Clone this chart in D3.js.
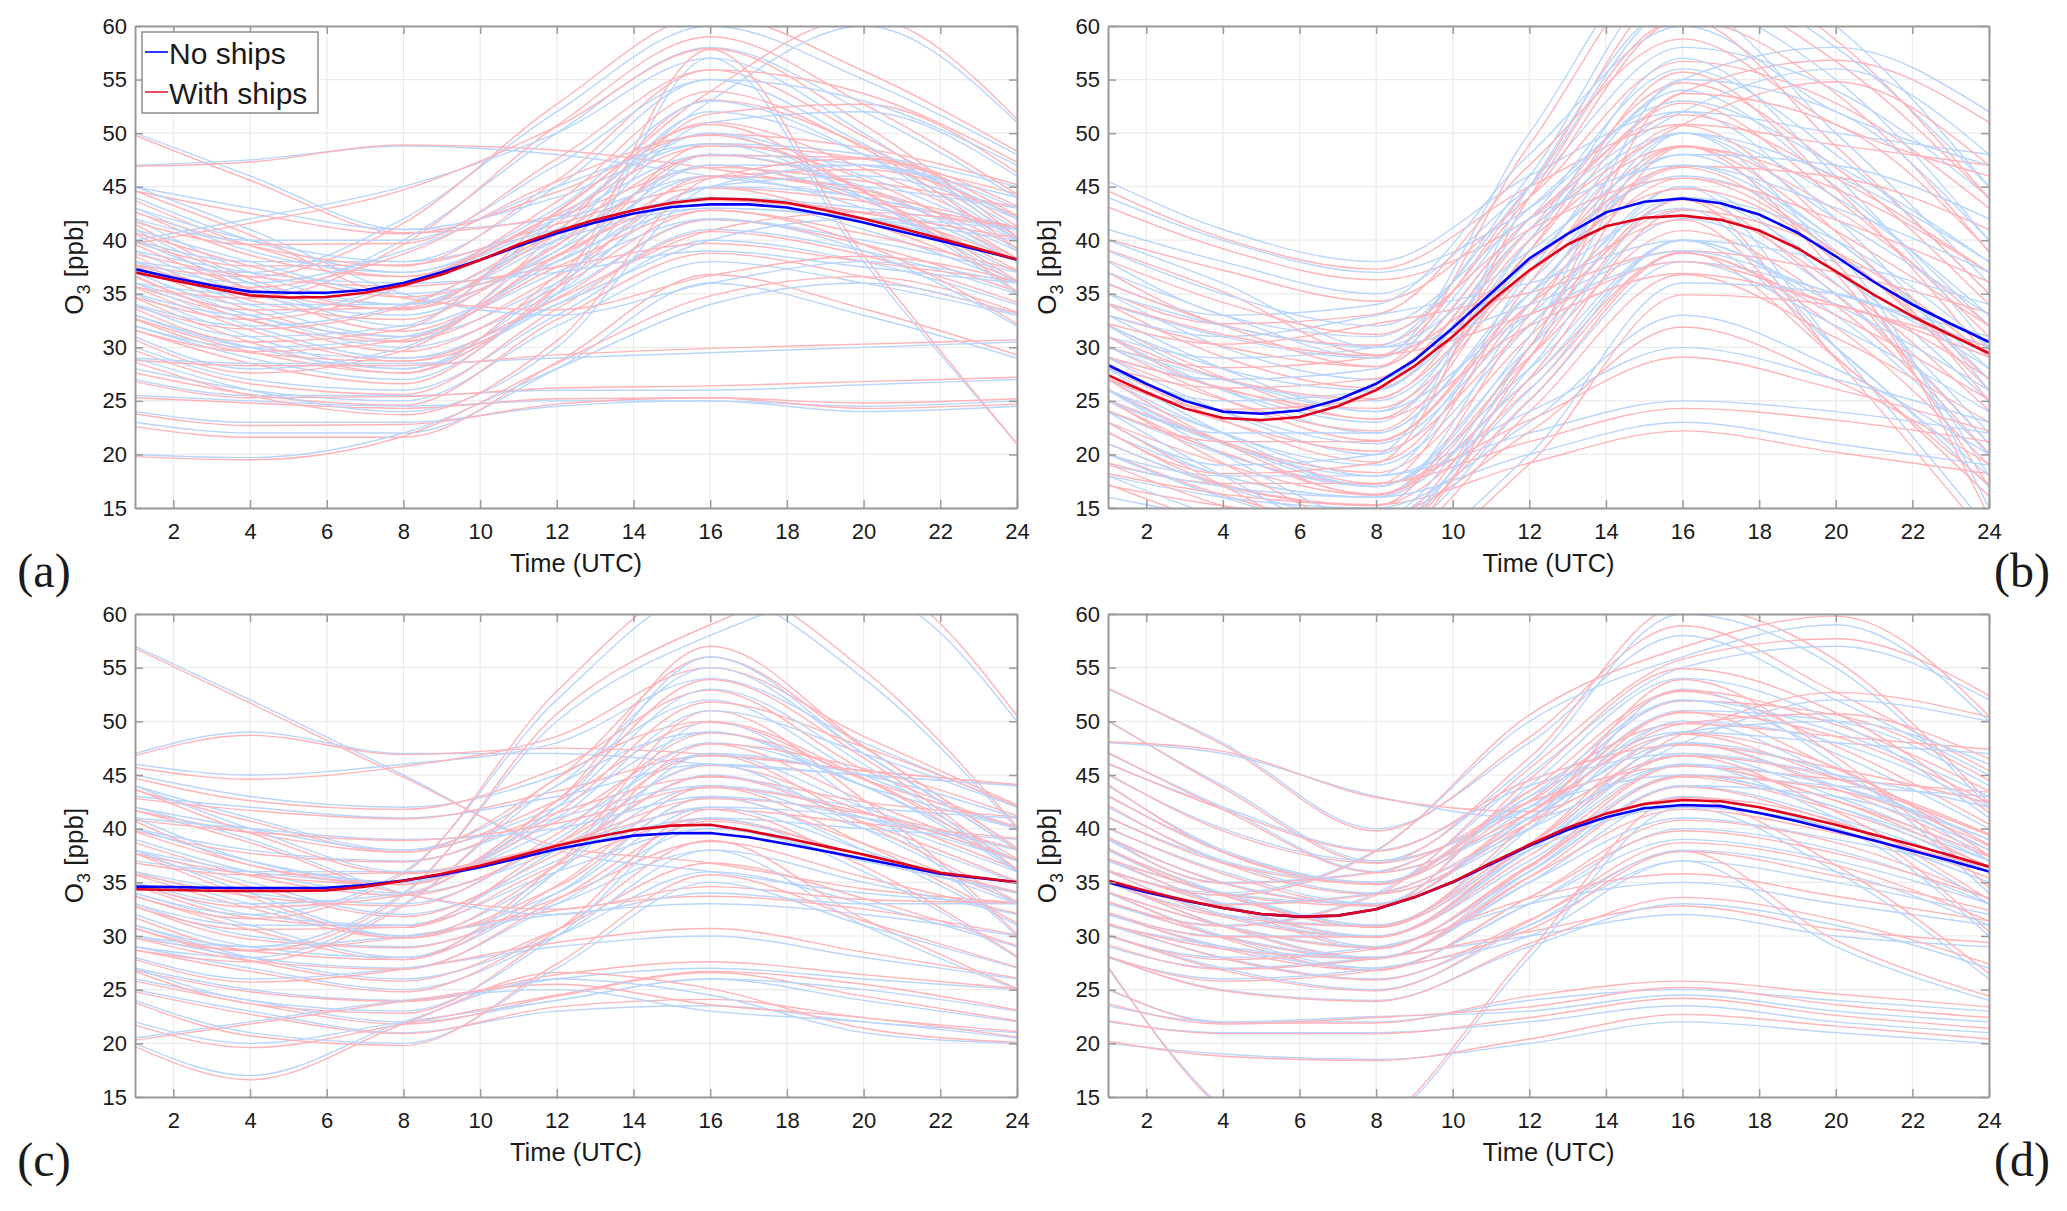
<!DOCTYPE html>
<html>
<head>
<meta charset="utf-8">
<script src="https://cdn.jsdelivr.net/npm/d3@7"></script>
<style>
  body { margin: 0; background: #fff; }
  text { font-family: "Liberation Sans", Arial, sans-serif; fill: #1a1a1a; }
</style>
</head>
<body>
<script>
// -------------------- DATA -------------------- //
const hours = [1,2,3,4,5,6,7,8,9,10,11,12,13,14,15,16,17,18,19,20,21,22,23,24];
const knotHours = [1, 4, 8, 12, 16, 20, 24];
const xTicks = [2,4,6,8,10,12,14,16,18,20,22,24];
const yTicks = [15,20,25,30,35,40,45,50,55,60];
const seriesNames = ["No ships", "With ships"];

// mean diurnal cycles
const meanNoShipsA = [37.3,36.5,35.8,35.2,35.1,35.1,35.35,36.0,37.0,38.15,39.45,40.65,41.65,42.5,43.1,43.35,43.35,43.05,42.4,41.65,40.8,39.95,39.1,38.2];
const meanWithShipsA = [37.0,36.25,35.55,34.85,34.65,34.7,35.1,35.8,36.8,38.15,39.6,40.85,41.9,42.8,43.5,43.9,43.8,43.5,42.8,42.0,41.1,40.15,39.2,38.2];
const meanNoShipsB = [28.35,26.6,25.0,24.0,23.8,24.1,25.1,26.6,28.8,31.8,35.05,38.3,40.6,42.6,43.6,43.9,43.45,42.4,40.7,38.5,36.1,34.0,32.2,30.5];
const meanWithShipsB = [27.4,25.8,24.3,23.4,23.2,23.5,24.5,26.0,28.25,31.0,34.3,37.2,39.6,41.3,42.1,42.3,41.9,40.9,39.25,37.1,34.9,32.9,31.15,29.45];
const meanNoShipsC = [34.6,34.55,34.5,34.47,34.47,34.5,34.75,35.16,35.7,36.4,37.25,38.1,38.75,39.35,39.57,39.6,39.2,38.57,37.9,37.2,36.5,35.8,35.4,35.0];
const meanWithShipsC = [34.35,34.28,34.22,34.2,34.2,34.25,34.6,35.15,35.8,36.55,37.45,38.4,39.2,39.9,40.28,40.37,39.8,39.1,38.35,37.6,36.75,35.9,35.45,35.0];
const meanNoShipsD = [35.0,34.07,33.3,32.6,32.05,31.8,31.9,32.5,33.6,35.0,36.7,38.4,39.9,41.06,41.9,42.2,42.1,41.46,40.7,39.8,38.9,37.95,37.0,36.0];
const meanWithShipsD = [35.16,34.2,33.35,32.6,32.05,31.8,31.9,32.5,33.6,35.05,36.8,38.5,40.1,41.4,42.3,42.67,42.55,42.0,41.2,40.37,39.44,38.5,37.5,36.46];

// single stations, values at knotHours
const stationsNoShipsA = [
  [50,46,41,42,46,45,43],[47,47.5,48.8,48,46,44,41],[45,43,41,44,49,48,45],[44,40,37,42,48,47,44],
  [42,37,34,41,50,46,40],[41,36,32,38,47,44,38],[40,38,38,41,44,43,41],[39,35,33,39,46,43,37],
  [38,34,31,36,44,41,36],[37,33,31,40,52,48,40],[36,33,30,35,42,40,37],[35,31,28,36,48,45,38],
  [34,32,34,40,43,42,40],[33,30,28,34,41,39,35],[32,29,27,35,45,44,39],[31,28,30,38,43,42,38],
  [30,27,26,33,40,38,34],[28,26,25,32,38,36,33],[27,25.5,25.5,26,26,26.5,27],[25.5,25,24.5,25,25,24.5,25],
  [24,23,23,24.5,25,24,24.5],[23,22,22,28,36,33,29],[20,19.7,22,28,34,36,33],[38,37,42,52,60,55,48],
  [36,35,40,50,58,52,44],[40,42,45,50,57,50,40],[43,40,38,45,55,49,41],[35,33,36,42,53,60,51],
  [33,30,29,35,57,38,21],[39,37,36,37,39,37.5,36],[29,28.5,28.5,29,29.5,30,30.5],[45,41,35,33,36,38,36],
  [41,38,35,38,45,46,42],[37,34,34,40,47,47,43],[40,36,34,39,51,52,46],[36,32,29,34,40,42,41],
  [43,39,37,43,53,48,39],[34,31,32,42,50,44,36],[38,36,39,45,49,44,35],[32,30,31,37,42,39,32],
  [42,40,40,47,55,53,47],[29,26,24,30,45,47,42]
];
const stationsWithShipsA = [
  [49.8,45.6,40.7,42.3,46.8,45.5,43.1],[46.9,47.3,48.9,48.4,46.7,44.4,41.2],[44.6,42.5,40.6,44.5,49.9,48.6,45.2],[43.7,39.5,36.6,42.4,48.8,47.6,44.3],
  [41.5,36.4,33.5,41.6,51.0,46.7,40.2],[40.6,35.4,31.5,38.5,48.0,44.8,38.3],[39.8,37.6,37.7,41.5,44.9,43.6,41.2],[38.5,34.4,32.6,39.6,47.0,43.7,37.2],
  [37.6,33.5,30.6,36.6,44.9,41.7,36.2],[36.7,32.5,30.5,40.7,53.1,48.8,40.3],[35.7,32.6,29.6,35.6,42.8,40.6,37.2],[34.6,30.5,27.6,36.7,49.0,45.7,38.3],
  [33.8,31.7,33.8,40.5,43.7,42.5,40.2],[32.7,29.6,27.6,34.6,41.9,39.6,35.2],[31.6,28.5,26.6,35.6,46.0,44.7,39.3],[30.7,27.6,29.7,38.6,43.8,42.6,38.2],
  [29.7,26.6,25.6,33.6,40.8,38.6,34.2],[27.6,25.6,24.6,32.6,38.8,36.6,33.2],[26.8,25.3,25.4,26.2,26.4,26.8,27.2],[25.3,24.8,24.3,25.2,25.3,24.8,25.2],
  [23.8,22.7,22.8,24.7,25.3,24.3,24.7],[22.6,21.6,21.6,28.6,36.8,33.6,29.3],[19.8,19.5,21.7,28.5,34.8,36.6,33.3],[37.7,36.6,41.6,52.7,61.0,55.8,48.3],
  [35.6,34.6,39.6,50.7,59.0,52.7,44.3],[39.7,41.6,44.7,50.6,57.9,50.8,40.3],[42.6,39.5,37.6,45.6,55.9,49.7,41.3],[34.7,32.6,35.7,42.6,53.9,60.8,51.3],
  [32.6,29.5,28.7,35.6,57.8,38.6,21.0],[38.7,36.6,35.7,37.5,39.7,38.0,36.2],[28.8,28.3,28.3,29.3,29.9,30.3,30.7],[44.6,40.5,34.6,33.5,36.7,38.5,36.2],
  [40.7,37.6,34.7,38.5,45.8,46.6,42.2],[36.6,33.5,33.7,40.6,47.9,47.7,43.2],[39.6,35.5,33.6,39.5,51.8,52.7,46.3],[35.6,31.6,28.7,34.5,40.9,42.6,41.2],
  [42.7,38.6,36.6,43.6,53.9,48.6,39.2],[33.6,30.5,31.7,42.7,50.8,44.6,36.2],[37.7,35.6,38.7,45.5,49.8,44.5,35.2],[31.6,29.6,30.7,37.5,42.8,39.6,32.2],
  [41.7,39.6,39.7,47.6,55.9,53.7,47.3],[28.6,25.5,23.7,30.6,45.8,47.6,42.3]
];
const stationsNoShipsB = [
  [45.5,41,38,46,52,50,48],[44,40,37,43,55,58,52],[41,38,35,45,58,54,44],[38,33,31,45,62,55,40],
  [35,30,27,42,56,48,35],[33,28,24,40,54,45,32],[32,27,25,38,50,44,33],[31,26,22,36,48,40,28],
  [30,26,23,40,57,46,30],[29,24,20,35,47,40,27],[28,24,21,33,44,37,25],[27,22,19,32,45,36,22],
  [26,21,18,37,52,42,26],[25,21,17,30,42,35,21],[24,20,17,28,40,33,20],[23,18,16,27,40,30,17],
  [22,18,16,34,50,38,18],[21,17,14,30,45,30,13],[20,18,18,22,25,24,22],[19,17,16,20,23,21,19],
  [18,16,15,23,33,28,20],[16,14,12,25,38,32,24],[31,29,30,46,65,58,45],[34,31,29,50,68,60,45],
  [36,33,34,48,60,52,47],[29,27,28,42,52,56,48],[26,22,18,24,30,27,23],[33,31,33,36,40,38,34],
  [30,27,24,33,38,35,30],[28,25,26,38,46,39,15],[40,36,30,34,39,35,31],[23,19,20,45,62,50,36],
  [37,33,29,43,53,47,38],[26,20,14,26,40,34,26],[24,18,12,30,50,46,38],[32,28,26,41,50,42,33],
  [20,16,13,28,44,40,30],[35,32,30,39,48,47,42],[28,22,17,31,55,52,40],[18,14,10,20,36,35,28],
  [39,35,32,42,47,43,37],[25,22,22,35,43,30,18]
];
const stationsWithShipsB = [
  [44.6,40.2,37.3,45.0,50.8,48.9,47.0],[43.1,39.2,36.3,42.0,53.8,56.8,51.0],[40.1,37.2,34.3,44.0,56.7,52.8,43.0],[37.0,32.1,30.2,44.0,60.6,53.7,38.9],
  [34.0,29.1,26.2,41.0,54.7,46.8,34.0],[32.1,27.2,23.3,39.0,52.8,43.9,31.0],[31.0,26.1,24.3,37.0,48.8,42.8,32.0],[30.1,25.2,21.3,35.0,46.8,38.9,27.0],
  [29.0,25.1,22.2,39.0,55.7,44.8,29.0],[28.1,23.2,19.3,34.0,45.8,38.9,26.0],[27.0,23.1,20.3,32.1,42.9,35.9,24.1],[26.1,21.2,18.3,31.0,43.8,34.9,21.0],
  [25.0,20.1,17.2,36.0,50.7,40.8,25.0],[24.1,20.2,16.3,29.1,40.9,33.9,20.1],[23.0,19.1,16.2,27.0,38.8,31.9,19.0],[22.1,17.2,15.3,26.1,38.9,29.0,16.1],
  [21.0,17.1,15.2,33.0,48.8,36.9,17.0],[20.1,16.2,13.3,29.0,43.8,28.9,12.1],[19.2,17.3,17.3,21.2,24.3,23.2,21.2],[18.2,16.3,15.3,19.2,22.2,20.2,18.2],
  [17.1,15.2,14.3,22.1,31.9,26.9,19.1],[15.1,13.2,11.3,24.0,36.8,30.9,23.0],[30.0,28.1,29.1,45.0,63.6,56.7,43.9],[33.0,30.1,28.2,48.9,66.6,58.7,43.9],
  [35.1,32.2,33.1,47.0,58.8,50.8,46.0],[28.1,26.2,27.1,41.0,50.8,54.8,47.0],[25.1,21.2,17.3,23.2,29.1,26.1,22.2],[32.2,30.3,32.2,35.1,39.0,37.0,33.2],
  [29.1,26.2,23.3,32.0,36.9,34.0,29.1],[27.1,24.2,25.2,37.0,44.8,37.9,14.2],[39.1,35.2,29.3,33.1,38.0,34.0,30.1],[22.1,18.2,19.2,44.0,60.7,48.8,35.0],
  [35.9,32.0,28.2,42.0,51.7,45.8,37.0],[25.1,19.2,13.3,25.1,38.8,33.0,25.1],[23.0,17.1,11.2,29.0,48.7,44.8,37.0],[31.0,27.1,25.2,40.0,48.8,40.9,32.0],
  [19.1,15.2,12.3,27.1,42.8,38.9,29.1],[34.1,31.2,29.2,38.0,46.9,45.9,41.0],[27.0,21.1,16.2,30.0,53.7,50.8,39.0],[17.2,13.3,9.4,19.1,34.9,33.9,27.1],
  [38.1,34.2,31.2,41.0,45.8,41.9,36.1],[24.1,21.2,21.2,34.0,41.9,29.1,17.2]
];
const stationsNoShipsC = [
  [57,52,45,38,36,34,33],[47,49,47,47,46,45,44],[46,45,46,48,54,48,42],[45,43,42,45,52,45,40],
  [44,41,38,44,55,47,38],[43,42,41,43,46,45,44],[42,40,38,42,49,44,40],[41,37,35,40,47,42,37],
  [40,38,37,41,44,42,41],[39,36,34,38,45,41,36],[38,35,32,37,44,40,35],[37,36,36,38,41,40,39],
  [36,33,30,34,42,38,33],[35,32,31,36,40,37,34],[34,31,28,34,43,38,31],[33,30,29,33,38,35,32],
  [32,29,28,36,50,42,30],[31,28,26,30,36,33,29],[30,29,30,32,33,32,30],[29,27,25,30,38,31,25],
  [28,26,27,29,30,28,26],[27,25,24,26,27,26,25],[26,24,22,24,26,24,22],[25,23,21,23,23.5,22,21],
  [22,20,22,24,26,25,23],[20,17,22,26,24.5,21,20],[20.5,22,24,25,23,22,20.5],[34,32,36,52,62,54,40],
  [31,29,34,50,58,62,50],[38,36,35,42,56,47,38],[42,39,34,32,34,33,33],[29,28,33,44,49,44,37],
  [40,37,35,41,51,47,42],[36,34,33,39,48,44,36],[33,31,31,38,46,40,33],[44,40,36,38,42,41,38],
  [30,28,27,33,40,37,34],[38,34,30,36,47,45,41],[35,33,34,42,53,46,36],[27,24,23,30,41,36,28],
  [41,40,39,40,43,41,37],[24,21,20,27,35,31,27]
];
const stationsWithShipsC = [
  [56.8,51.7,44.8,38.4,36.8,34.4,33.1],[46.8,48.7,46.9,47.5,46.9,45.4,44.1],[45.7,44.6,45.8,48.6,55.0,48.6,42.2],[44.7,42.6,41.8,45.6,52.9,45.5,40.1],
  [43.6,40.7,37.8,44.7,56.0,47.6,38.2],[42.8,41.7,40.9,43.5,46.8,45.4,44.1],[41.7,39.6,37.8,42.6,49.9,44.6,40.2],[40.7,36.6,34.8,40.7,47.9,42.6,37.1],
  [39.8,37.7,36.9,41.5,44.8,42.5,41.1],[38.7,35.6,33.8,38.6,45.9,41.6,36.2],[37.7,34.6,31.8,37.6,44.9,40.6,35.1],[36.8,35.7,35.9,38.5,41.8,40.5,39.1],
  [35.7,32.6,29.8,34.6,42.9,38.6,33.2],[34.7,31.7,30.8,36.6,40.9,37.5,34.1],[33.7,30.6,27.8,34.7,43.9,38.6,31.2],[32.8,29.7,28.9,33.5,38.8,35.5,32.1],
  [31.7,28.6,27.8,36.7,51.0,42.7,30.2],[30.7,27.7,25.8,30.6,36.8,33.5,29.1],[29.8,28.7,29.9,32.4,33.7,32.5,30.1],[28.7,26.7,24.8,30.6,38.9,31.6,25.1],
  [27.8,25.7,26.9,29.4,30.7,28.5,26.1],[26.8,24.8,23.9,26.4,27.6,26.4,25.1],[25.8,23.7,21.8,24.4,26.6,24.4,22.1],[24.8,22.7,20.9,23.4,24.1,22.4,21.1],
  [21.7,19.6,21.8,24.5,26.7,25.5,23.1],[19.7,16.6,21.8,26.6,25.1,21.4,20.1],[20.3,21.8,23.9,25.5,23.6,22.4,20.6],[33.7,31.6,35.8,52.8,63.0,54.8,40.2],
  [30.7,28.6,33.8,50.7,59.0,63.0,50.5],[37.7,35.7,34.8,42.6,57.0,47.7,38.2],[41.7,38.7,33.9,32.5,34.6,33.4,33.1],[28.7,27.6,32.8,44.7,50.0,44.7,37.2],
  [39.7,36.6,34.8,41.5,51.8,47.6,42.1],[35.8,33.7,32.8,39.5,48.9,44.6,36.2],[32.7,30.6,30.8,38.6,46.9,40.5,33.2],[43.7,39.6,35.8,38.5,42.8,41.4,38.1],
  [29.8,27.7,26.9,33.4,40.7,37.5,34.1],[37.7,33.6,29.8,36.6,47.9,45.6,41.2],[34.8,32.7,33.8,42.6,53.9,46.6,36.2],[26.7,23.7,22.8,30.5,41.8,36.5,28.1],
  [40.8,39.7,38.9,40.5,43.8,41.5,37.1],[23.8,20.7,19.8,27.4,35.7,31.4,27.1]
];
const stationsNoShipsD = [
  [53,48,40,48,58,52,45],[50,44,37,46,60,55,42],[48,47,43,41,48,52,50],[45,40,37,42,51,50,44],
  [44,38,35,42,52,47,40],[42,37,34,40,50,45,38],[40,36,33,41,48,44,39],[39,35,36,42,45,44,43],
  [38,34,31,38,47,43,37],[37,33,30,37,45,42,37],[36,33,29,36,44,41,36],[35,31,28,35,43,40,35],
  [34,30,27,33,40,38,33],[33,30,28,36,45,42,36],[32,29,27,33,39,37,33],[31,28,26,31,37,35,32],
  [30,28,29,33,35,33,31],[29,27,28,30,32,30,29],[28,26,27,30,37,29,24],[25,22,22,24,25,24,23],
  [23.5,22,22.5,23,24.5,23,22],[22,21,21,22,23.5,22,21],[20,19,18.5,20,22,21,20],[27,14,8,8,8,8,8],
  [8,8,12,28,42,40,30],[36,34,38,50,56,59,50],[33,31,34,45,55,57,52],[41,37,35,43,49,48,47],
  [37,34,31,40,53,46,34],[35,32,31,38,42,36,26],[46,42,38,44,47,45,42],[31,29,28,35,41,39,36],
  [43,38,35,43,52,49,43],[39,35,33,41,50,48,42],[36,32,30,38,46,44,39],[34,31,29,36,44,43,38],
  [32,30,30,38,48,45,37],[30,27,25,31,38,36,31],[47,42,36,41,49,50,46],[38,34,33,44,54,50,41],
  [28,25,24,29,33,31,27],[35,33,34,40,46,41,33]
];
const stationsWithShipsD = [
  [53.1,47.8,39.8,48.5,58.9,52.7,45.4],[50.1,43.8,36.8,46.6,60.8,55.7,42.4],[48.1,47.2,42.9,41.6,48.8,52.7,50.4],[45.1,39.8,36.8,42.5,51.9,50.6,44.5],
  [44.1,37.8,34.8,42.6,52.8,47.7,40.4],[42.2,36.8,33.9,40.5,50.9,45.6,38.5],[40.1,35.8,32.8,41.6,48.8,44.7,39.4],[39.2,34.9,35.9,42.5,45.8,44.6,43.4],
  [38.1,33.8,30.8,38.6,47.9,43.7,37.5],[37.2,32.9,29.9,37.5,45.9,42.6,37.4],[36.1,32.8,28.8,36.6,44.8,41.7,36.5],[35.2,30.9,27.9,35.5,43.9,40.6,35.4],
  [34.1,29.8,26.8,33.6,40.8,38.7,33.5],[33.2,29.9,27.9,36.5,45.9,42.6,36.4],[32.1,28.8,26.8,33.6,39.8,37.7,33.5],[31.2,27.9,25.9,31.5,37.9,35.6,32.4],
  [30.1,27.8,28.8,33.5,35.8,33.7,31.4],[29.2,26.9,27.9,30.4,32.8,30.6,29.4],[28.1,25.8,26.8,30.6,37.9,29.6,24.4],[25.1,21.9,21.9,24.4,25.8,24.6,23.4],
  [23.7,21.8,22.4,23.4,25.2,23.6,22.4],[22.1,20.9,20.9,22.4,24.2,22.6,21.4],[20.2,18.8,18.4,20.4,22.7,21.6,20.4],[27.2,13.8,8,8,8,8,8],
  [8,8,12.2,28.6,42.9,40.7,30.4],[36.1,33.8,37.9,50.6,56.9,59.8,50.5],[33.2,30.9,33.8,45.6,55.8,57.7,52.4],[41.1,36.8,34.9,43.5,49.8,48.6,47.4],
  [37.2,33.8,30.8,40.6,53.9,46.7,34.5],[35.1,31.8,30.9,38.5,42.8,36.6,26.5],[46.1,41.8,37.9,44.5,47.8,45.6,42.4],[31.1,28.8,27.9,35.5,41.8,39.6,36.4],
  [43.1,37.8,34.8,43.5,52.9,49.7,43.5],[39.2,34.9,32.9,41.5,50.8,48.6,42.4],[36.1,31.8,29.9,38.5,46.8,44.7,39.5],[34.1,30.9,28.9,36.4,44.9,43.6,38.4],
  [32.2,29.9,29.9,38.6,48.9,45.7,37.5],[30.1,26.8,24.9,31.4,38.7,36.6,31.4],[47.1,41.8,35.9,41.5,49.8,50.7,46.5],[38.2,33.9,32.8,44.6,54.9,50.8,41.5],
  [28.1,24.9,23.9,29.3,33.6,31.5,27.4],[35.1,32.9,33.9,40.5,46.8,41.6,33.4]
];

// -------------------- LAYOUT -------------------- //
const W = 2067, H = 1211;
const panels = [
  { id: "a", left: 135, right: 1017, top: 26, bottom: 508, letterX: 44, noShips: stationsNoShipsA, withShips: stationsWithShipsA, meanNo: meanNoShipsA, meanWith: meanWithShipsA, legend: true },
  { id: "b", left: 1108, right: 1989, top: 26, bottom: 508, letterX: 2022, noShips: stationsNoShipsB, withShips: stationsWithShipsB, meanNo: meanNoShipsB, meanWith: meanWithShipsB },
  { id: "c", left: 135, right: 1017, top: 614, bottom: 1097, letterX: 44, noShips: stationsNoShipsC, withShips: stationsWithShipsC, meanNo: meanNoShipsC, meanWith: meanWithShipsC },
  { id: "d", left: 1108, right: 1989, top: 614, bottom: 1097, letterX: 2022, noShips: stationsNoShipsD, withShips: stationsWithShipsD, meanNo: meanNoShipsD, meanWith: meanWithShipsD }
];

const AXIS_COLOR = "#9a9a9a";
const GRID_COLOR = "#ebebeb";
const THIN_BLUE = "#b9d5fb";
const THIN_RED = "#ffb3b9";

let svg = d3.select("body").append("svg")
  .attr("width", W).attr("height", H)
  .style("background", "#fff");
let defs = svg.append("defs");

function drawPanel(p) {
  let x = d3.scaleLinear().domain([1, 24]).range([p.left, p.right]);
  let y = d3.scaleLinear().domain([15, 60]).range([p.bottom, p.top]);
  let g = svg.append("g").attr("class", "panel-" + p.id);

  defs.append("clipPath").attr("id", "clip-" + p.id)
    .append("rect")
    .attr("x", p.left).attr("y", p.top)
    .attr("width", p.right - p.left).attr("height", p.bottom - p.top);

  // grid
  g.append("g").selectAll("line").data(xTicks).enter().append("line")
    .attr("x1", d => x(d)).attr("x2", d => x(d))
    .attr("y1", p.top).attr("y2", p.bottom)
    .attr("stroke", GRID_COLOR).attr("stroke-width", 1.2);
  g.append("g").selectAll("line").data(yTicks).enter().append("line")
    .attr("x1", p.left).attr("x2", p.right)
    .attr("y1", d => y(d)).attr("y2", d => y(d))
    .attr("stroke", GRID_COLOR).attr("stroke-width", 1.2);

  // station lines, blue and red interleaved
  let stationLine = d3.line()
    .x((d, i) => x(knotHours[i]))
    .y(d => y(d))
    .curve(d3.curveMonotoneX);
  let plot = g.append("g").attr("clip-path", "url(#clip-" + p.id + ")");
  p.noShips.forEach((s, i) => {
    plot.append("path").datum(s).attr("d", stationLine)
      .attr("fill", "none").attr("stroke", THIN_BLUE).attr("stroke-width", 1.4);
    plot.append("path").datum(p.withShips[i]).attr("d", stationLine)
      .attr("fill", "none").attr("stroke", THIN_RED).attr("stroke-width", 1.4);
  });

  // mean lines
  let meanLine = d3.line().x((d, i) => x(hours[i])).y(d => y(d));
  plot.append("path").datum(p.meanNo).attr("d", meanLine)
    .attr("fill", "none").attr("stroke", "#0000ff").attr("stroke-width", 2.6);
  plot.append("path").datum(p.meanWith).attr("d", meanLine)
    .attr("fill", "none").attr("stroke", "#e0001c").attr("stroke-width", 2.6);

  // axes (ticks inside, box on)
  let styleAxis = sel => {
    sel.selectAll(".domain").attr("stroke", AXIS_COLOR).attr("stroke-width", 2);
    sel.selectAll(".tick line").attr("stroke", AXIS_COLOR).attr("stroke-width", 1.5);
    sel.selectAll("text").attr("font-size", 22).attr("fill", "#1a1a1a")
      .style("font-family", "'Liberation Sans', Arial, sans-serif");
  };
  g.append("g").attr("transform", `translate(0,${p.bottom})`)
    .call(d3.axisBottom(x).tickValues(xTicks).tickSizeInner(-8).tickSizeOuter(0).tickPadding(15))
    .call(styleAxis);
  g.append("g").attr("transform", `translate(0,${p.top})`)
    .call(d3.axisTop(x).tickValues(xTicks).tickSizeInner(-8).tickSizeOuter(0).tickFormat(""))
    .call(styleAxis);
  g.append("g").attr("transform", `translate(${p.left},0)`)
    .call(d3.axisLeft(y).tickValues(yTicks).tickSizeInner(-8).tickSizeOuter(0).tickPadding(8))
    .call(styleAxis);
  g.append("g").attr("transform", `translate(${p.right},0)`)
    .call(d3.axisRight(y).tickValues(yTicks).tickSizeInner(-8).tickSizeOuter(0).tickFormat(""))
    .call(styleAxis);

  // axis labels
  g.append("text")
    .attr("x", (p.left + p.right) / 2).attr("y", p.bottom + 64)
    .attr("text-anchor", "middle").attr("font-size", 25.5)
    .text("Time (UTC)");
  let yl = g.append("text")
    .attr("transform", `translate(${p.left - 52},${(p.top + p.bottom) / 2}) rotate(-90)`)
    .attr("text-anchor", "middle").attr("font-size", 26);
  yl.append("tspan").text("O");
  yl.append("tspan").attr("font-size", 18).attr("dy", 7).text("3");
  yl.append("tspan").attr("dy", -7).text(" [ppb]");

  // panel letter
  g.append("text")
    .attr("x", p.letterX).attr("y", p.bottom + 79)
    .attr("text-anchor", "middle").attr("font-size", 48)
    .style("font-family", "'Liberation Serif', 'Times New Roman', serif")
    .text("(" + p.id + ")");

  if (p.legend) {
    let lg = g.append("g");
    lg.append("rect")
      .attr("x", 142).attr("y", 32).attr("width", 176).attr("height", 81)
      .attr("fill", "#fff").attr("stroke", "#8c8c8c").attr("stroke-width", 1.5);
    let legendColors = ["#2a3cff", "#ef4d62"];
    seriesNames.forEach((name, i) => {
      let ly = 52 + i * 40;
      lg.append("line").attr("x1", 145).attr("x2", 168).attr("y1", ly).attr("y2", ly)
        .attr("stroke", legendColors[i]).attr("stroke-width", 2);
      lg.append("text").attr("x", 169).attr("y", ly + 12)
        .attr("font-size", 30).text(name);
    });
  }
}

panels.forEach(drawPanel);
</script>
</body>
</html>
